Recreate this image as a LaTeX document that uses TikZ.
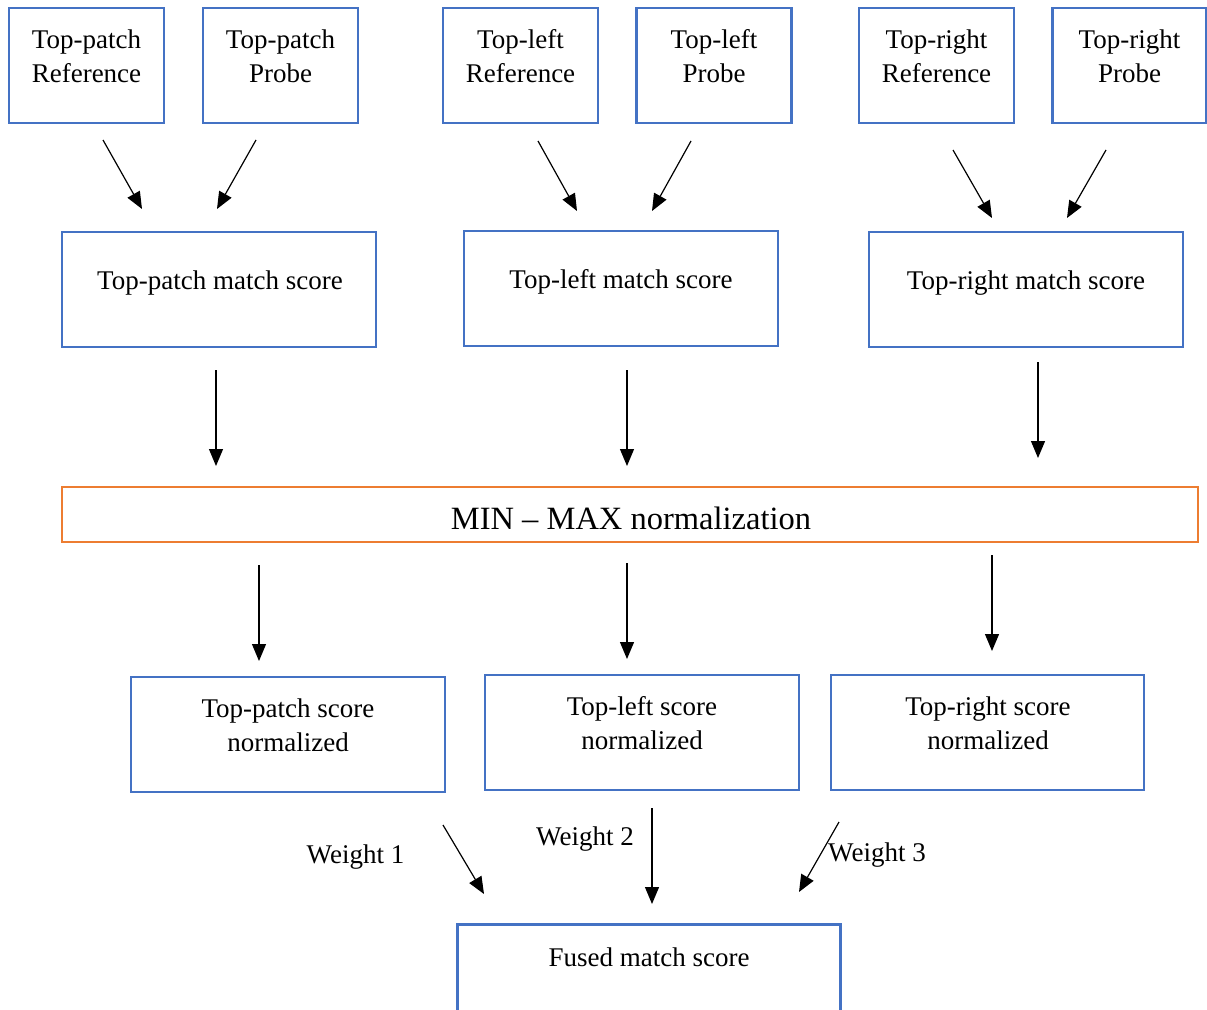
\documentclass[tikz,border=0pt]{standalone}
\usepackage{fontspec}
\setmainfont{Liberation Serif}
\usetikzlibrary{arrows.meta}
\definecolor{boxblue}{HTML}{4472C4}
\definecolor{boxorange}{HTML}{ED7D31}
\begin{document}
\begin{tikzpicture}[x=1pt,y=-1pt,
  bbox/.style={draw=boxblue,line width=2.6pt,rectangle,inner sep=0pt},
  obox/.style={draw=boxorange,line width=2.8pt,rectangle,inner sep=0pt},
  txt/.style={inner sep=0pt,anchor=base,align=center,
    font=\fontsize{27}{33.5}\selectfont},
  bigtxt/.style={inner sep=0pt,anchor=base,font=\fontsize{32.5}{38}\selectfont},
  arr/.style={line width=1.2pt,-{Triangle[length=17pt,width=14pt]}}]
\useasboundingbox (0,0) rectangle (1207,1009);
\clip (0,0) rectangle (1207,1009);

% input boxes (two-line texts are placed by the baseline of their last line)
\node[bbox,minimum width=155,minimum height=115] (tpr) at (86.5,65.5) {};
\node[bbox,minimum width=155,minimum height=115] (tpp) at (280.5,65.5) {};
\node[bbox,minimum width=155,minimum height=115] (tlr) at (520.5,65.5) {};
\node[bbox,minimum width=155,minimum height=115] (tlp) at (714,65.5) {};
\node[bbox,minimum width=155,minimum height=115] (trr) at (936.5,65.5) {};
\node[bbox,minimum width=154,minimum height=115] (trp) at (1129.5,65.5) {};
\node[txt] (tprT) at (86.5,82) {Top-patch\\Reference};
\node[txt] (tppT) at (280.5,82) {Top-patch\\Probe};
\node[txt] (tlrT) at (520.5,82) {Top-left\\Reference};
\node[txt] (tlpT) at (714,82) {Top-left\\Probe};
\node[txt] (trrT) at (936.5,82) {Top-right\\Reference};
\node[txt] (trpT) at (1129.5,82) {Top-right\\Probe};

% match score boxes
\node[bbox,minimum width=314,minimum height=115] (tpm) at (219,289.5) {};
\node[bbox,minimum width=314,minimum height=115] (tlm) at (621,288.5) {};
\node[bbox,minimum width=314,minimum height=115] (trm) at (1026,289.5) {};
\node[txt] (tpmT) at (220,289) {Top-patch match score};
\node[txt] (tlmT) at (621,288) {Top-left match score};
\node[txt] (trmT) at (1026,289) {Top-right match score};

% normalization
\node[obox,minimum width=1136,minimum height=55] (mm) at (630,514.5) {};
\node[bigtxt] (mmT) at (631,529) {MIN -- MAX normalization};

% normalized score boxes
\node[bbox,minimum width=314,minimum height=115] (tpn) at (288,734.5) {};
\node[bbox,minimum width=314,minimum height=115] (tln) at (642,732.5) {};
\node[bbox,minimum width=313,minimum height=115] (trn) at (987.5,732.5) {};
\node[txt] (tpnT) at (288,751) {Top-patch score\\normalized};
\node[txt] (tlnT) at (642,749) {Top-left score\\normalized};
\node[txt] (trnT) at (988,749) {Top-right score\\normalized};

% fused result
\node[bbox,minimum width=383,minimum height=120,anchor=north west] (fus) at (456,923) {};
\node[txt] (fusT) at (649,966) {Fused match score};

% weights
\node[txt] (w1) at (355.5,863) {Weight 1};
\node[txt] (w2) at (585,845) {Weight 2};
\node[txt] (w3) at (877,861) {Weight 3};

% arrow end points
\coordinate (a1s) at (103,140);  \coordinate (a1e) at (142,209);
\coordinate (a2s) at (256,140);  \coordinate (a2e) at (217,209);
\coordinate (a3s) at (538,141);  \coordinate (a3e) at (577,211);
\coordinate (a4s) at (691,141);  \coordinate (a4e) at (652,211);
\coordinate (a5s) at (953,150);  \coordinate (a5e) at (992,218);
\coordinate (a6s) at (1106,150); \coordinate (a6e) at (1067,218);
\coordinate (b1s) at (216,370);  \coordinate (b1e) at (216,466);
\coordinate (b2s) at (627,370);  \coordinate (b2e) at (627,466);
\coordinate (b3s) at (1038,362); \coordinate (b3e) at (1038,458);
\coordinate (c1s) at (259,565);  \coordinate (c1e) at (259,661);
\coordinate (c2s) at (627,563);  \coordinate (c2e) at (627,659);
\coordinate (c3s) at (992,555);  \coordinate (c3e) at (992,651);
\coordinate (d1s) at (443,825);  \coordinate (d1e) at (484,894);
\coordinate (d2s) at (652,808);  \coordinate (d2e) at (652,904);
\coordinate (d3s) at (839,822);  \coordinate (d3e) at (799,892);

\foreach \s in {a1,a2,a3,a4,a5,a6,b1,b2,b3,c1,c2,c3,d1,d2,d3}
  \draw[arr] (\s s) -- (\s e);
\end{tikzpicture}
\end{document}
